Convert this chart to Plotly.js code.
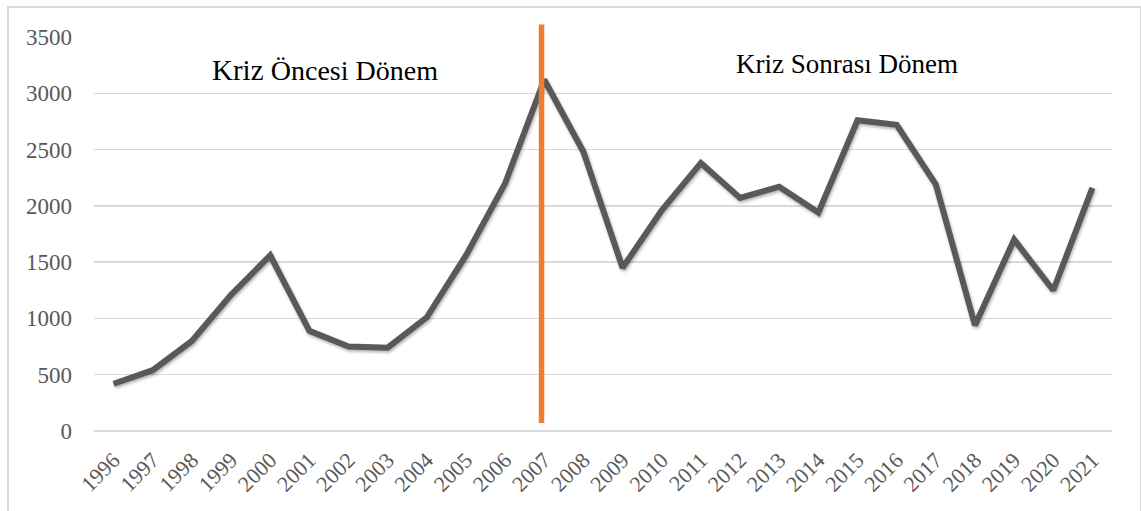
<!DOCTYPE html>
<html>
<head>
<meta charset="utf-8">
<script src="https://cdn.plot.ly/plotly-3.0.1.min.js"></script>
<style>
  html, body { margin: 0; padding: 0; background: #fff; }
  #chart { position: absolute; left: 0; top: 0; width: 1141px; height: 511px; }
  #frame { position: absolute; left: 7px; top: 6px; width: 1131px; height: 540px; border: 2px solid #d9d9d9; pointer-events: none; }
</style>
</head>
<body>
<div id="chart"></div>
<div id="frame"></div>
<script>
const years = ['1996','1997','1998','1999','2000','2001','2002','2003','2004','2005','2006','2007','2008',
  '2009','2010','2011','2012','2013','2014','2015','2016','2017','2018','2019','2020','2021'];
const values = [420, 540, 800, 1210, 1560, 890, 750, 740, 1010, 1560, 2200, 3120, 2480,
  1450, 1960, 2380, 2070, 2170, 1940, 2760, 2720, 2190, 940, 1700, 1250, 2160];
const yTicks = [0, 500, 1000, 1500, 2000, 2500, 3000, 3500];
const labelBefore = 'Kriz <span style="font-size:28px">Öncesi Dönem</span>';
const labelAfter = 'Kriz Sonrası Dönem';

const serif = 'Liberation Serif, Times New Roman, serif';

const trace = {
  x: years, y: values, type: 'scatter', mode: 'lines',
  line: { color: '#595959', width: 6, shape: 'linear' },
  hoverinfo: 'x+y', showlegend: false
};

const layout = {
  width: 1141, height: 511,
  margin: { l: 94, r: 29, t: 37, b: 80 },
  paper_bgcolor: '#ffffff', plot_bgcolor: '#ffffff',
  showlegend: false,
  font: { family: serif, color: '#595959' },
  xaxis: {
    type: 'category', range: [-0.5, years.length - 0.5],
    showgrid: false, zeroline: false, showline: false,
    tickangle: -45, tickfont: { family: serif, size: 22, color: '#595959' },
    ticks: '', ticklabelstandoff: 11, fixedrange: true
  },
  yaxis: {
    range: [0, 3500], tickvals: yTicks, ticktext: yTicks.map(String),
    showgrid: true, gridcolor: '#d9d9d9', gridwidth: 1.5,
    zeroline: true, zerolinecolor: '#d9d9d9', zerolinewidth: 1.5,
    showline: false, ticks: '', ticklabelstandoff: 21,
    tickfont: { family: serif, size: 23, color: '#595959' }, fixedrange: true
  },
  shapes: [
    { type: 'rect', xref: 'paper', yref: 'paper', x0: 0.0609, x1: 0.3939, y0: 0.84, y1: 0.987,
      fillcolor: '#ffffff', line: { width: 0 }, layer: 'between' },
    { type: 'rect', xref: 'paper', yref: 'paper', x0: 0.5334, x1: 0.947, y0: 0.84, y1: 1.023,
      fillcolor: '#ffffff', line: { width: 0 }, layer: 'between' },
    { type: 'line', xref: 'x', yref: 'paper', x0: 10.93, x1: 10.93, y0: 0.0203, y1: 1.032,
      line: { color: '#ED7D31', width: 5.5 }, layer: 'above' }
  ],
  annotations: [
    { xref: 'paper', yref: 'paper', x: 0.2269, y: 0.916, text: labelBefore, showarrow: false,
      xanchor: 'center', yanchor: 'middle', font: { family: serif, size: 29, color: '#000000' } },
    { xref: 'paper', yref: 'paper', x: 0.740, y: 0.931, text: labelAfter, showarrow: false,
      xanchor: 'center', yanchor: 'middle', font: { family: serif, size: 27, color: '#000000' } }
  ]
};

Plotly.newPlot('chart', [trace], layout, { displayModeBar: false, staticPlot: true }).then(function (gd) {
  gd.querySelectorAll('.scatterlayer .js-line').forEach(function (p) {
    p.style.filter = 'drop-shadow(1px 2px 1.5px rgba(0,0,0,0.3))';
  });
});
</script>
</body>
</html>
